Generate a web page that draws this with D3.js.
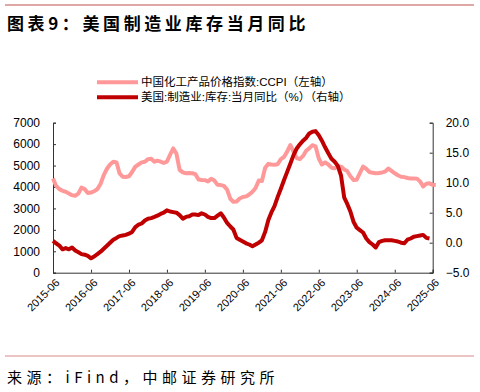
<!DOCTYPE html>
<html><head><meta charset="utf-8">
<script src="https://cdn.jsdelivr.net/npm/d3@7"></script>
<style>
body{margin:0;background:#fff;}
svg{display:block;font-family:Arial,"Liberation Sans","Noto Sans CJK SC",sans-serif;}
</style></head>
<body><svg id="c" width="480" height="392"></svg>
<script>
const startMonth = "2015-06";
const tickLabels = ["2015-06","2016-06","2017-06","2018-06","2019-06","2020-06","2021-06","2022-06","2023-06","2024-06","2025-06"];
const leftTicks = [0,1000,2000,3000,4000,5000,6000,7000];
const rightTicks = [-5,0,5,10,15,20];
const ccpi = [4400,4050,3900,3820,3780,3700,3620,3590,3700,3970,3900,3720,3740,3800,3900,4150,4550,4850,5050,5180,5150,4650,4480,4470,4500,4700,4950,5050,5150,5180,5300,5320,5180,5230,5180,5120,5180,5500,5800,5550,4800,4680,4640,4650,4640,4600,4350,4330,4320,4260,4380,4300,4100,4090,4050,3880,3450,3310,3320,3460,3530,3560,3650,3780,3950,4300,4280,4900,5080,5050,5040,5060,5300,5400,5650,5960,5650,5350,5300,5450,5700,5800,5950,5900,5330,5050,5150,5050,4900,4870,4960,4950,4820,4750,4500,4330,4340,4650,4950,4850,4700,4660,4640,4650,4680,4720,4860,4750,4640,4550,4480,4460,4420,4400,4400,4390,4250,4020,4150,4170,4100,4090];
const usInv = [0.3,-0.1,-0.5,-1.1,-0.9,-1.1,-0.8,-1.3,-1.6,-1.9,-2.0,-2.2,-2.6,-2.3,-1.9,-1.5,-1.0,-0.5,0.0,0.5,0.8,1.1,1.2,1.3,1.5,1.8,2.6,3.0,3.2,3.7,4.0,4.1,4.3,4.5,4.8,5.0,5.4,5.2,5.1,5.0,4.6,4.0,4.3,4.4,4.7,4.7,4.6,4.9,4.7,4.3,4.1,4.1,4.5,4.9,4.2,3.3,2.7,2.2,0.8,0.5,0.2,-0.1,-0.3,-0.6,-0.3,0.0,0.4,1.8,3.8,5.0,6.1,7.6,9.0,10.4,11.8,13.2,14.6,15.7,16.4,17.0,17.5,18.2,18.5,18.6,17.9,17.0,15.9,14.9,14.0,13.5,12.8,11.2,7.5,6.5,5.2,3.5,2.5,2.1,1.7,0.7,0.1,-0.3,-0.8,0.1,0.3,0.4,0.4,0.4,0.3,0.2,0.0,-0.1,0.5,0.7,1.0,1.1,1.2,1.3,0.8,0.7];
const legendLabels = ["中国化工产品价格指数:CCPI（左轴）","美国:制造业:库存:当月同比（%）（右轴）"];
const title = "图表9：美国制造业库存当月同比";
const source = "来源：iFind，中邮证券研究所";

const svg = d3.select("#c");
const parse = d3.timeParse("%Y-%m");
const t0 = parse(startMonth);
const dateAt = i => d3.timeMonth.offset(t0, i);

const x = d3.scaleTime().domain([parse("2015-06"), parse("2025-06")]).range([53, 432.7]);
const yL = d3.scaleLinear().domain([0,7000]).range([272.7,122.7]);
const yR = d3.scaleLinear().domain([-5,20]).range([272.7,122.7]);

// header / footer rules
svg.append("line").attr("x1",5).attr("x2",474).attr("y1",5).attr("y2",5).attr("stroke","#c0504d").attr("stroke-width",1.2);
svg.append("text").attr("x",7).attr("y",30).attr("font-size",17).attr("font-weight","bold").attr("letter-spacing",3.6)
  .attr("font-family","'Noto Sans CJK SC',sans-serif").attr("fill","#000").text(title);
svg.append("line").attr("x1",5).attr("x2",474).attr("y1",356).attr("y2",356).attr("stroke","#d98a88").attr("stroke-width",1.2);
svg.append("text").attr("x",7).attr("y",383).attr("font-size",15).attr("letter-spacing",4.5)
  .attr("font-family","'Noto Sans CJK SC',sans-serif").attr("fill","#000").text(source);

// axes
const axL = d3.axisLeft(yL).tickValues(leftTicks).tickSize(-3).tickPadding(13).tickFormat(d3.format("d"));
const gL = svg.append("g").attr("transform","translate(53,0)").call(axL);
const axR = d3.axisRight(yR).tickValues(rightTicks).tickSize(-3).tickPadding(13).tickFormat(d3.format(".1f"));
const gR = svg.append("g").attr("transform","translate(432.7,0)").call(axR);
const axB = d3.axisBottom(x).tickValues(tickLabels.map(parse)).tickSize(-3).tickFormat(d3.timeFormat("%Y-%m"));
const gB = svg.append("g").attr("transform","translate(0,272.7)").call(axB);
[gL,gR,gB].forEach(g=>{
  g.select(".domain").attr("stroke","#333");
  g.selectAll(".tick line").attr("stroke","#333");
  g.selectAll("text").attr("font-size",12).attr("fill","#000").attr("font-family","Arial,'Liberation Sans',sans-serif");
});
gL.selectAll("text").attr("x",-13);
gR.selectAll("text").attr("x",13);
gB.selectAll("text").attr("font-size",11).attr("text-anchor","end")
  .attr("transform","translate(4,8) rotate(-45)").attr("dy","0.35em").attr("y",0).attr("x",0);

// lines
const lineL = d3.line().x((d,i)=>x(dateAt(i))).y(d=>yL(d)).curve(d3.curveLinear);
const lineR = d3.line().x((d,i)=>x(dateAt(i))).y(d=>yR(d)).curve(d3.curveLinear);
svg.append("path").datum(ccpi).attr("d",lineL).attr("fill","none").attr("stroke","#ff9999").attr("stroke-width",4).attr("stroke-linejoin","round");
svg.append("path").datum(usInv).attr("d",lineR).attr("fill","none").attr("stroke","#c00000").attr("stroke-width",4).attr("stroke-linejoin","round");

// legend
const legColors = ["#ff9999","#c00000"];
legendLabels.forEach((l,i)=>{
  const yy = 82.3 + i*15;
  svg.append("line").attr("x1",97).attr("x2",138).attr("y1",yy).attr("y2",yy).attr("stroke",legColors[i]).attr("stroke-width",4);
  svg.append("text").attr("x",141).attr("y",yy).attr("dy","0.35em").attr("font-size",11.5)
    .attr("font-family","Arial,'Liberation Sans','Noto Sans CJK SC',sans-serif").attr("fill","#000").text(l);
});
</script></body></html>
